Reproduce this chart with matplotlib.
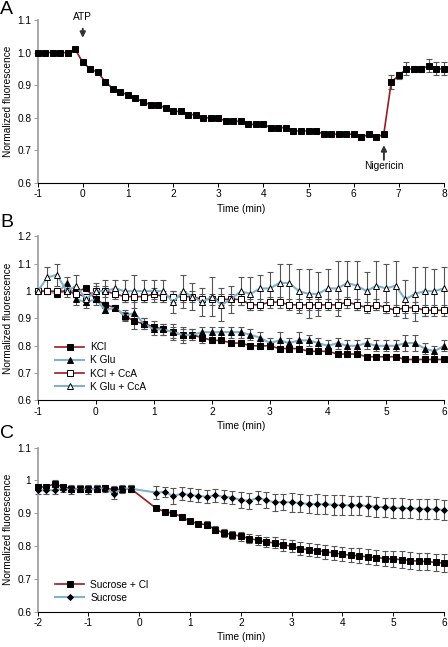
import numpy as np
import matplotlib
matplotlib.use("Agg")
import matplotlib.pyplot as plt

plt.rcParams['font.family'] = ['Liberation Sans', 'DejaVu Sans']
plt.rcParams['font.size'] = 7

RED = '#9b1b1f'
BLUE = '#7fb2d0'

# ---------------- Panel A ----------------
tA = np.round(np.arange(-6, 49) / 6, 3)
yA = [1.0, 1.0, 1.0, 1.0, 1.0, 1.01,
      0.97, 0.95, 0.94, 0.91, 0.89, 0.88, 0.87, 0.86, 0.85, 0.84, 0.84, 0.83,
      0.82, 0.82, 0.81, 0.81, 0.80, 0.80, 0.80, 0.79, 0.79, 0.79, 0.78, 0.78,
      0.78, 0.77, 0.77, 0.77, 0.76, 0.76, 0.76, 0.76, 0.75, 0.75, 0.75, 0.75,
      0.75, 0.74, 0.75, 0.74, 0.75,
      0.91, 0.93, 0.95, 0.95, 0.95, 0.96, 0.95, 0.95]
eA = [0.0] * 47 + [0.02, 0.01, 0.02, 0.01, 0.01, 0.02, 0.02, 0.02]

# ---------------- Panel B ----------------
tB = np.round(np.arange(-6, 37) / 6, 3)
kcl = [1.0, 1.0, 0.995, 1.0, 1.0, 1.01, 0.97, 0.95, 0.94, 0.91, 0.89, 0.88,
       0.87, 0.86, 0.85, 0.84, 0.84, 0.83, 0.82, 0.82, 0.81, 0.81, 0.80, 0.80,
       0.80, 0.79, 0.79, 0.79, 0.78, 0.78, 0.78, 0.77, 0.77, 0.77, 0.76, 0.76,
       0.76, 0.76, 0.75, 0.75, 0.75, 0.75, 0.75]
kcl_e = [0.005, 0.005, 0.005, 0.005, 0.01, 0.005, 0.01, 0.01, 0.01, 0.015, 0.01, 0.02,
         0.02, 0.02, 0.03, 0.03, 0.02, 0.02, 0.01, 0.01, 0.01, 0.01, 0.01, 0.01,
         0.01, 0.01, 0.01, 0.01, 0.01, 0.01, 0.01, 0.01, 0.01, 0.01, 0.01, 0.01,
         0.01, 0.01, 0.01, 0.01, 0.01, 0.01, 0.01]
kglu = [1.0, 1.0, 0.99, 1.03, 0.97, 0.96, 0.97, 0.93, 0.94, 0.91, 0.92, 0.88,
        0.86, 0.86, 0.85, 0.84, 0.84, 0.85, 0.85, 0.85, 0.85, 0.85, 0.84, 0.83,
        0.81, 0.82, 0.81, 0.82, 0.82, 0.81, 0.80, 0.81, 0.80, 0.80, 0.81, 0.80,
        0.80, 0.80, 0.81, 0.81, 0.79, 0.78, 0.80]
kglu_e = [0.01, 0.01, 0.01, 0.02, 0.02, 0.02, 0.02, 0.01, 0.01, 0.02, 0.06, 0.02,
          0.02, 0.02, 0.02, 0.02, 0.02, 0.02, 0.02, 0.02, 0.02, 0.02, 0.02, 0.02,
          0.02, 0.03, 0.02, 0.03, 0.02, 0.02, 0.02, 0.02, 0.02, 0.02, 0.02, 0.02,
          0.02, 0.02, 0.03, 0.03, 0.02, 0.02, 0.02]
kcl_cca = [1.0, 1.0, 1.0, 1.0, 0.99, 0.98, 1.0, 1.0, 0.99, 0.98, 0.98, 0.98,
           0.99, 0.98, 0.98, 0.98, 0.98, 0.97, 0.97, 0.97, 0.97, 0.97, 0.95, 0.95,
           0.96, 0.96, 0.95, 0.95, 0.95, 0.95, 0.95, 0.95, 0.96, 0.95, 0.94, 0.95,
           0.94, 0.93, 0.94, 0.94, 0.93, 0.93, 0.93]
kcl_cca_e = [0.005, 0.01, 0.01, 0.01, 0.01, 0.01, 0.02, 0.02, 0.02, 0.02, 0.02, 0.02,
             0.02, 0.02, 0.02, 0.02, 0.02, 0.02, 0.02, 0.02, 0.02, 0.02, 0.02, 0.02,
             0.02, 0.02, 0.02, 0.02, 0.02, 0.02, 0.02, 0.02, 0.02, 0.02, 0.02, 0.02,
             0.02, 0.02, 0.02, 0.02, 0.02, 0.02, 0.02]
kglu_cca = [1.0, 1.05, 1.06, 1.0, 1.02, 0.97, 1.0, 1.0, 1.01, 1.0, 1.0, 1.0,
            1.0, 1.0, 0.96, 1.0, 0.98, 0.96, 0.98, 0.95, 0.97, 1.0, 0.99, 1.01,
            1.01, 1.03, 1.03, 1.0, 0.99, 0.99, 1.01, 1.01, 1.03, 1.02, 1.0, 1.02,
            1.01, 1.02, 0.97, 0.99, 1.0, 1.0, 1.01]
kglu_cca_e = [0.005, 0.04, 0.04, 0.02, 0.04, 0.02, 0.03, 0.04, 0.03, 0.04, 0.06, 0.04,
              0.04, 0.04, 0.04, 0.06, 0.05, 0.05, 0.07, 0.06, 0.05, 0.05, 0.06, 0.05,
              0.06, 0.07, 0.07, 0.08, 0.09, 0.08, 0.07, 0.10, 0.08, 0.09, 0.07, 0.09,
              0.09, 0.09, 0.07, 0.10, 0.09, 0.08, 0.08]

# ---------------- Panel C ----------------
tC = np.concatenate([np.arange(-12, 0), np.arange(2, 37)]) / 6
suc_cl = [0.98, 0.98, 0.99, 0.98, 0.975, 0.975, 0.975, 0.975, 0.977, 0.972, 0.973, 0.975,
          0.915, 0.905, 0.90, 0.89, 0.875, 0.868, 0.865, 0.85, 0.84, 0.835, 0.83,
          0.823, 0.818, 0.812, 0.81, 0.803, 0.80, 0.792, 0.789, 0.786, 0.783, 0.779,
          0.775, 0.772, 0.77, 0.767, 0.765, 0.762, 0.76, 0.759, 0.756, 0.754, 0.753,
          0.75, 0.748]
suc_cl_e = [0.01, 0.01, 0.01, 0.01, 0.01, 0.01, 0.01, 0.01, 0.01, 0.01, 0.01, 0.01,
            0.005, 0.005, 0.005, 0.008, 0.008, 0.008, 0.01, 0.01, 0.012, 0.012, 0.014,
            0.015, 0.016, 0.016, 0.017, 0.018, 0.018, 0.019, 0.02, 0.02, 0.021, 0.021,
            0.022, 0.022, 0.023, 0.023, 0.024, 0.024, 0.025, 0.025, 0.026, 0.026, 0.026,
            0.027, 0.027]
suc = [0.97, 0.97, 0.97, 0.975, 0.97, 0.975, 0.97, 0.975, 0.975, 0.96, 0.975, 0.975,
       0.963, 0.965, 0.952, 0.96, 0.956, 0.953, 0.95, 0.955, 0.95, 0.948, 0.94,
       0.938, 0.947, 0.94, 0.933, 0.935, 0.933, 0.932, 0.928, 0.928, 0.927, 0.926,
       0.925, 0.924, 0.924, 0.922, 0.92, 0.918, 0.917, 0.916, 0.915, 0.914, 0.913,
       0.912, 0.91]
suc_e = [0.01, 0.01, 0.01, 0.01, 0.01, 0.01, 0.01, 0.01, 0.01, 0.015, 0.01, 0.01,
         0.02, 0.015, 0.025, 0.02, 0.02, 0.02, 0.02, 0.02, 0.02, 0.02, 0.025,
         0.025, 0.02, 0.025, 0.025, 0.025, 0.028, 0.028, 0.028, 0.03, 0.03, 0.03,
         0.03, 0.03, 0.03, 0.03, 0.03, 0.03, 0.03, 0.03, 0.03, 0.03, 0.03, 0.03, 0.03]

fig = plt.figure(figsize=(4.48, 6.47), dpi=100)
L, W = 0.084, 0.907
axA = fig.add_axes([L, 0.717, W, 0.252])
axB = fig.add_axes([L, 0.381, W, 0.2535])
axC = fig.add_axes([L, 0.0546, W, 0.2535])


def style(ax, xlim, ylim, yticks, ylabels, xticks):
    ax.set_xlim(*xlim)
    ax.set_ylim(*ylim)
    ax.set_yticks(yticks)
    ax.set_yticklabels(ylabels)
    ax.set_xticks(xticks)
    ax.set_xticklabels([str(v) for v in xticks])
    for s in ['top', 'right']:
        ax.spines[s].set_visible(False)
    ax.spines['left'].set_color('#9a9a9a')
    ax.spines['left'].set_linewidth(1.2)
    ax.spines['bottom'].set_linewidth(0.8)
    ax.tick_params(axis='both', length=3, width=0.7, pad=1.5, labelsize=7.3)
    ax.tick_params(axis='y', color='#9a9a9a')
    ax.set_xlabel('Time (min)', fontsize=7.3, labelpad=3)
    ax.set_ylabel('Normalized fluorescence', fontsize=7.3, labelpad=3)


def series(ax, t, y, e, color, marker, ms, mfc, label=None, lw=1.2):
    ax.errorbar(t, y, yerr=e, fmt='none', ecolor='#555555', elinewidth=0.8,
                capsize=2.3, capthick=0.8, zorder=2, clip_on=False)
    ax.plot(t, y, color=color, lw=lw, marker=marker, ms=ms, mfc=mfc,
            mec='black', mew=0.7, zorder=3, label=label, clip_on=False)


# Panel A
series(axA, tA, yA, eA, RED, 's', 5.0, 'black')
style(axA, (-1, 8), (0.6, 1.1), [0.6, 0.7, 0.8, 0.9, 1.0, 1.1],
      ['0.6', '0.7', '0.8', '0.9', '1.0', '1.1'], list(range(-1, 9)))
axA.annotate('', xy=(0, 1.037), xytext=(0, 1.082),
             arrowprops=dict(arrowstyle='-|>', color='#333333', lw=1.4,
                             mutation_scale=8), annotation_clip=False)
axA.text(0, 1.109, 'ATP', ha='center', va='center', fontsize=7.3)
axA.annotate('', xy=(6.67, 0.725), xytext=(6.67, 0.663),
             arrowprops=dict(arrowstyle='-|>', color='#333333', lw=1.4,
                             mutation_scale=8))
axA.text(6.67, 0.651, 'Nigericin', ha='center', va='center', fontsize=7.3)

# Panel B
series(axB, tB, kcl, kcl_e, RED, 's', 4.8, 'black', 'KCl')
series(axB, tB, kglu, kglu_e, BLUE, '^', 4.8, 'black', 'K Glu', lw=1.5)
series(axB, tB, kcl_cca, kcl_cca_e, RED, 's', 4.8, 'white', 'KCl + CcA')
series(axB, tB, kglu_cca, kglu_cca_e, BLUE, '^', 4.8, 'white', 'K Glu + CcA', lw=1.5)
style(axB, (-1, 6), (0.6, 1.2), [0.6, 0.7, 0.8, 0.9, 1.0, 1.1, 1.2],
      ['0.6', '0.7', '0.8', '0.9', '1', '1.1', '1.2'], list(range(-1, 7)))
axB.legend(loc='upper left', bbox_to_anchor=(0.03, 0.385), frameon=False,
           borderpad=0, handlelength=2.9, handletextpad=0.6, labelspacing=0.3,
           fontsize=7.3)

# Panel C
series(axC, tC, suc_cl, suc_cl_e, RED, 's', 5.0, 'black', 'Sucrose + Cl')
series(axC, tC, suc, suc_e, BLUE, 'D', 3.0, 'black', 'Sucrose', lw=1.5)
style(axC, (-2, 6), (0.6, 1.1), [0.6, 0.7, 0.8, 0.9, 1.0, 1.1],
      ['0.6', '0.7', '0.8', '0.9', '1', '1.1'], list(range(-2, 7)))
axC.legend(loc='upper left', bbox_to_anchor=(0.03, 0.225), frameon=False,
           borderpad=0, handlelength=2.9, handletextpad=0.6, labelspacing=0.3,
           fontsize=7.3)

fig.text(0.0, 0.999, 'A', fontsize=14, va='top', ha='left')
fig.text(0.0, 0.670, 'B', fontsize=14, va='top', ha='left')
fig.text(0.0, 0.343, 'C', fontsize=14, va='top', ha='left')

fig.savefig('out.png', dpi=100)
